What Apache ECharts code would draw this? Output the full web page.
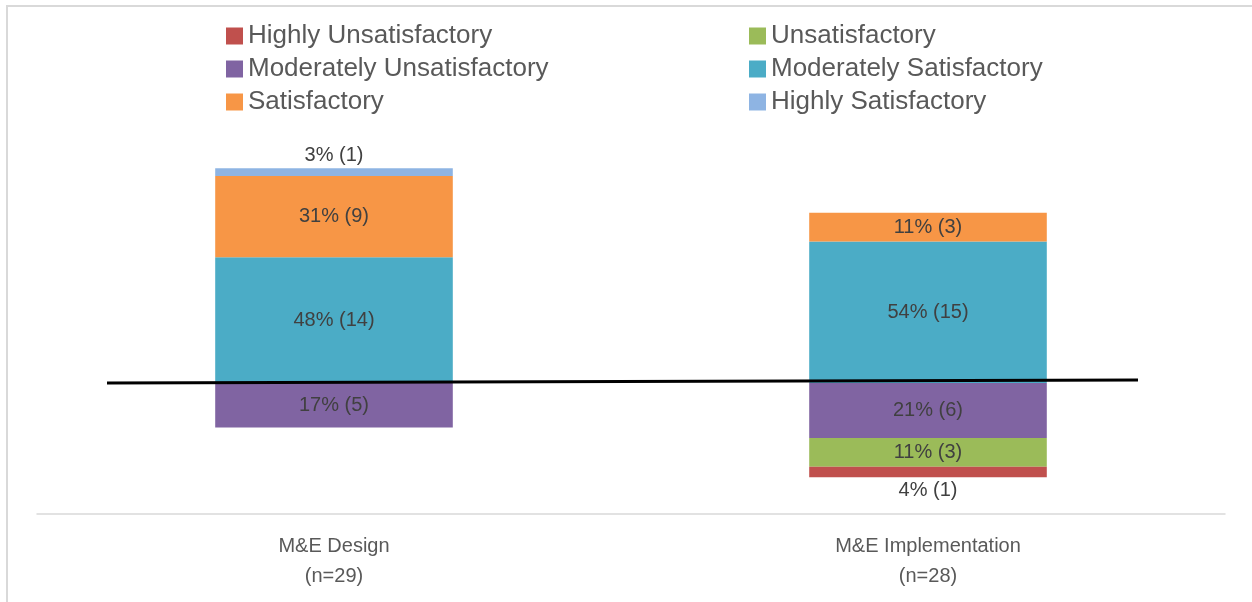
<!DOCTYPE html>
<html><head><meta charset="utf-8">
<script src="https://cdn.jsdelivr.net/npm/echarts@6/dist/echarts.min.js"></script>
<style>html,body{margin:0;padding:0;background:#fff}#c{width:1252px;height:602px}</style>
</head><body><div id="c"></div>
<script>
const categories = ['M&E Design\n(n=29)', 'M&E Implementation\n(n=28)'];
// percentages (negative = unsatisfactory side) and respondent counts
const highlyUnsatPct = [null, -4];
const unsatPct = [null, -11];
const modUnsatPct = [-17, -21];
const modSatPct = [48, 54];
const satPct = [31, 11];
const highlySatPct = [3, null];
const highlyUnsatN = [null, 1];
const unsatN = [null, 3];
const modUnsatN = [5, 6];
const modSatN = [14, 15];
const satN = [9, 3];
const highlySatN = [1, null];

const FONT = 'Liberation Sans';
function mk(name, pct, counts, color, pos) {
  return {
    name, type: 'bar', stack: 'total', barWidth: '40%', data: pct,
    itemStyle: { color },
    label: {
      show: true, position: pos || 'inside', color: '#404040', fontSize: 20, fontFamily: FONT,
      distance: 3,
      formatter: p => Math.abs(p.value) + '% (' + counts[p.dataIndex] + ')'
    }
  };
}
const legendText = { fontSize: 26, lineHeight: 26, color: '#595959', fontFamily: FONT };
const chart = echarts.init(document.getElementById('c'));
chart.setOption({
  animation: false,
  textStyle: { fontFamily: FONT },
  legend: [
    { left: 221, top: 18, orient: 'vertical', itemWidth: 17, itemHeight: 17, itemGap: 7, icon: 'rect',
      textStyle: legendText,
      data: ['Highly Unsatisfactory', 'Moderately Unsatisfactory', 'Satisfactory'] },
    { left: 744, top: 18, orient: 'vertical', itemWidth: 17, itemHeight: 17, itemGap: 7, icon: 'rect',
      textStyle: legendText,
      data: ['Unsatisfactory', 'Moderately Satisfactory', 'Highly Satisfactory'] }
  ],
  grid: { left: 37, right: 27, top: 121, bottom: 88, containLabel: false },
  xAxis: {
    type: 'category', data: categories, position: 'bottom',
    axisLine: { onZero: false, lineStyle: { color: '#d9d9d9', width: 1.5 } },
    axisTick: { show: false },
    axisLabel: { color: '#595959', fontSize: 20, lineHeight: 30, margin: 17, fontFamily: FONT }
  },
  yAxis: { type: 'value', min: -50, max: 100, show: false, splitLine: { show: false } },
  series: [
    mk('Moderately Unsatisfactory', modUnsatPct, modUnsatN, '#8064A2'),
    mk('Unsatisfactory', unsatPct, unsatN, '#9BBB59'),
    mk('Highly Unsatisfactory', highlyUnsatPct, highlyUnsatN, '#C0504D', 'bottom'),
    mk('Moderately Satisfactory', modSatPct, modSatN, '#4BACC6'),
    mk('Satisfactory', satPct, satN, '#F79646'),
    mk('Highly Satisfactory', highlySatPct, highlySatN, '#8EB4E3', 'top')
  ],
  graphic: [
    { type: 'rect', shape: { x: 7, y: 6, width: 1300, height: 700 }, style: { fill: 'none', stroke: '#d9d9d9', lineWidth: 2 }, z: 100 },
    { type: 'line', shape: { x1: 107, y1: 383, x2: 1138, y2: 380 }, style: { stroke: '#000', lineWidth: 3 }, z: 100 }
  ]
});
</script></body></html>
